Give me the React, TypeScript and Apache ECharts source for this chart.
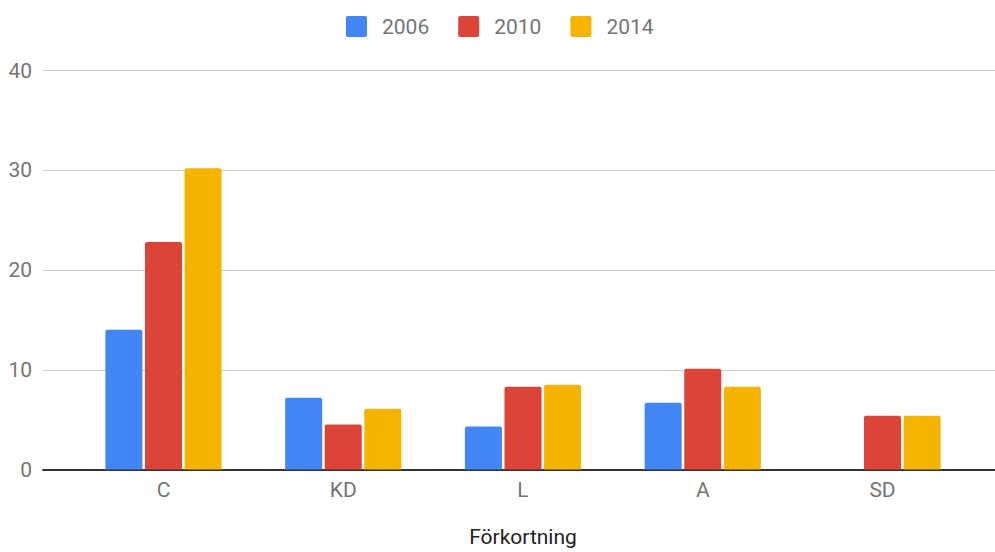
import React, { useEffect, useRef } from "react";
import * as echarts from "echarts";

const categories = ["C", "KD", "L", "A", "SD"];
const seriesNames = ["2006", "2010", "2014"];
const values2006: (number | null)[] = [14.0, 7.2, 4.3, 6.7, null];
const values2010: (number | null)[] = [22.8, 4.5, 8.3, 10.1, 5.4];
const values2014: (number | null)[] = [30.2, 6.1, 8.5, 8.3, 5.4];
const colors = ["#4285F4", "#DB4437", "#F4B400"];
const yTicks = { min: 0, max: 40, interval: 10 };
const axisTitle = "Förkortning";

const legendIcon =
  "path://M2,0H19A2,2,0,0,1,21,2V19A2,2,0,0,1,19,21H2A2,2,0,0,1,0,19V2A2,2,0,0,1,2,0Z";

export default function App() {
  const ref = useRef<HTMLDivElement>(null);
  useEffect(() => {
    if (!ref.current) return;
    const chart = echarts.init(ref.current, null, { renderer: "svg" });
    const font = "Roboto, Arial, sans-serif";
    const allValues = [values2006, values2010, values2014];
    chart.setOption({
      animation: false,
      color: colors,
      textStyle: { fontFamily: font },
      legend: {
        left: 341,
        top: 11,
        itemWidth: 21,
        itemHeight: 21,
        itemGap: 29,
        icon: legendIcon,
        textStyle: { fontSize: 21, color: "#757575", fontFamily: font, padding: [0, 0, 0, 10] },
        data: seriesNames,
      },
      grid: [
        { left: 73.6, right: 22.6, top: 70.5, bottom: 82.5, containLabel: false, outerBoundsMode: "none" },
        { left: 43, right: 0, top: 70.5, bottom: 82.5, containLabel: false, outerBoundsMode: "none" },
      ],
      xAxis: [
        {
          type: "category",
          gridIndex: 0,
          data: categories,
          axisLine: { show: false },
          axisTick: { show: false },
          axisLabel: { fontSize: 21, color: "#757575", fontFamily: font, margin: 10 },
          name: axisTitle,
          nameLocation: "middle",
          nameGap: 57,
          nameTextStyle: { fontSize: 21, color: "#222222", fontFamily: font },
        },
        {
          type: "value",
          gridIndex: 1,
          min: 0,
          max: 1,
          axisLine: { show: true, onZero: false, lineStyle: { color: "#333333", width: 2 } },
          axisTick: { show: false },
          axisLabel: { show: false },
          splitLine: { show: false },
        },
      ],
      yAxis: [
        {
          type: "value",
          gridIndex: 0,
          ...yTicks,
          axisLine: { show: false },
          axisTick: { show: false },
          axisLabel: { show: false },
          splitLine: { show: false },
        },
        {
          type: "value",
          gridIndex: 1,
          ...yTicks,
          axisLine: { show: false },
          axisTick: { show: false },
          axisLabel: { fontSize: 21, color: "#757575", fontFamily: font, margin: 11 },
          splitLine: { lineStyle: { color: "#cccccc", width: 1 } },
        },
      ],
      series: seriesNames.map((name, i) => ({
        name,
        type: "bar",
        xAxisIndex: 0,
        yAxisIndex: 0,
        data: allValues[i],
        barWidth: 37,
        barGap: "7%",
        z: 3,
        itemStyle: { color: colors[i], borderRadius: [2, 2, 0, 0] },
      })),
    });
    return () => chart.dispose();
  }, []);
  return (
    <div
      ref={ref}
      style={{ position: "fixed", left: 0, top: 0, width: 995, height: 552, background: "#ffffff" }}
    />
  );
}
